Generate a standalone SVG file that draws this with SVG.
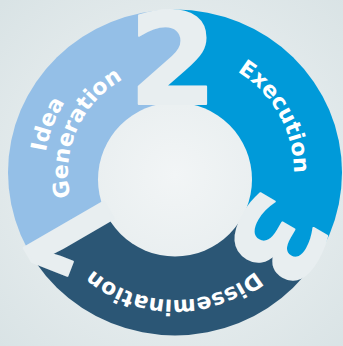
<svg xmlns="http://www.w3.org/2000/svg" width="343" height="346" viewBox="0 0 343 346">
<defs>
<radialGradient id="bg" gradientUnits="userSpaceOnUse" cx="175" cy="175" r="245">
<stop offset="0" stop-color="#f2f5f6"/>
<stop offset="1" stop-color="#d9e3e5"/>
</radialGradient>
<clipPath id="ring"><ellipse cx="175" cy="172.5" rx="167" ry="163"/></clipPath>
<path id="p-idea" d="M150,301.6 A131,131 0 1 1 242.5,60.7"/>
<path id="p-gen" d="M149.1,276.8 A107,107 0 1 1 234.8,84.3"/>
<path id="p-exec" d="M99.8,80.8 A119,119 0 1 1 214.1,285.4"/>
<path id="p-diss" d="M300.3,152 A127,127 0 1 1 50.1,149.9"/>
</defs>
<style>
.seg{clip-path:url(#ring)}
.lbl{font-family:"DejaVu Sans",sans-serif;font-weight:bold;font-size:22px;fill:#ffffff}
.num{font-weight:bold;fill:#e8eef0;stroke:#e8eef0;stroke-width:2;stroke-linejoin:round}
</style>
<rect width="343" height="346" fill="url(#bg)"/>
<g id="node-idea-generation">
<path class="seg" fill="#94bfe7" d="M173.3,-48 L173.3,15.1 L198.7,34.2 L196.1,49.4 L150.4,93.8 L173,95 L173,180 L177.5,172.5 L-47.6,302.5 L-60,-60 Z"/>
<text class="lbl" text-anchor="middle"><textPath href="#p-idea" startOffset="50%">Idea</textPath></text>
<text class="lbl" text-anchor="middle"><textPath href="#p-gen" startOffset="50%">Generation</textPath></text>
</g>
<g id="node-execution">
<path class="seg" fill="#009ad9" d="M173.3,-48 L173.3,15.1 L198.7,34.2 L196.1,49.4 L150.4,93.8 L173,95 L173,180 L172.2,180 L248.9,224.2 L242.1,242.9 L252.9,251.8 L279,254.8 L291,268.5 L307.6,258.2 L371.5,295 L400,-60 Z"/>
<text class="lbl" text-anchor="middle"><textPath href="#p-exec" startOffset="50%">Execution</textPath></text>
</g>
<g id="node-dissemination">
<path class="seg" fill="#2b5675" d="M172.2,180 L248.9,224.2 L242.1,242.9 L252.9,251.8 L279,254.8 L291,268.5 L307.6,258.2 L371.5,295 L400,400 L-60,400 L-47.6,302.5 L177.5,172.5 Z"/>
<text class="lbl" text-anchor="middle"><textPath href="#p-diss" startOffset="50%">Dissemination</textPath></text>
</g>
<circle id="hub" cx="175" cy="179.5" r="77" fill="url(#bg)"/>
<g id="step-numbers">
<text class="num" font-family="'Open Sans', sans-serif" font-size="130" text-anchor="middle" transform="translate(112.5,215.8) rotate(-120)">1</text>
<text class="num" font-family="'DejaVu Sans', sans-serif" font-size="127" text-anchor="middle" transform="translate(173,104)">2</text>
<text class="num" font-family="'DejaVu Sans', sans-serif" font-size="115" text-anchor="middle" transform="translate(242,220) rotate(120)">3</text>
</g>
<g id="connectors"/>
</svg>
